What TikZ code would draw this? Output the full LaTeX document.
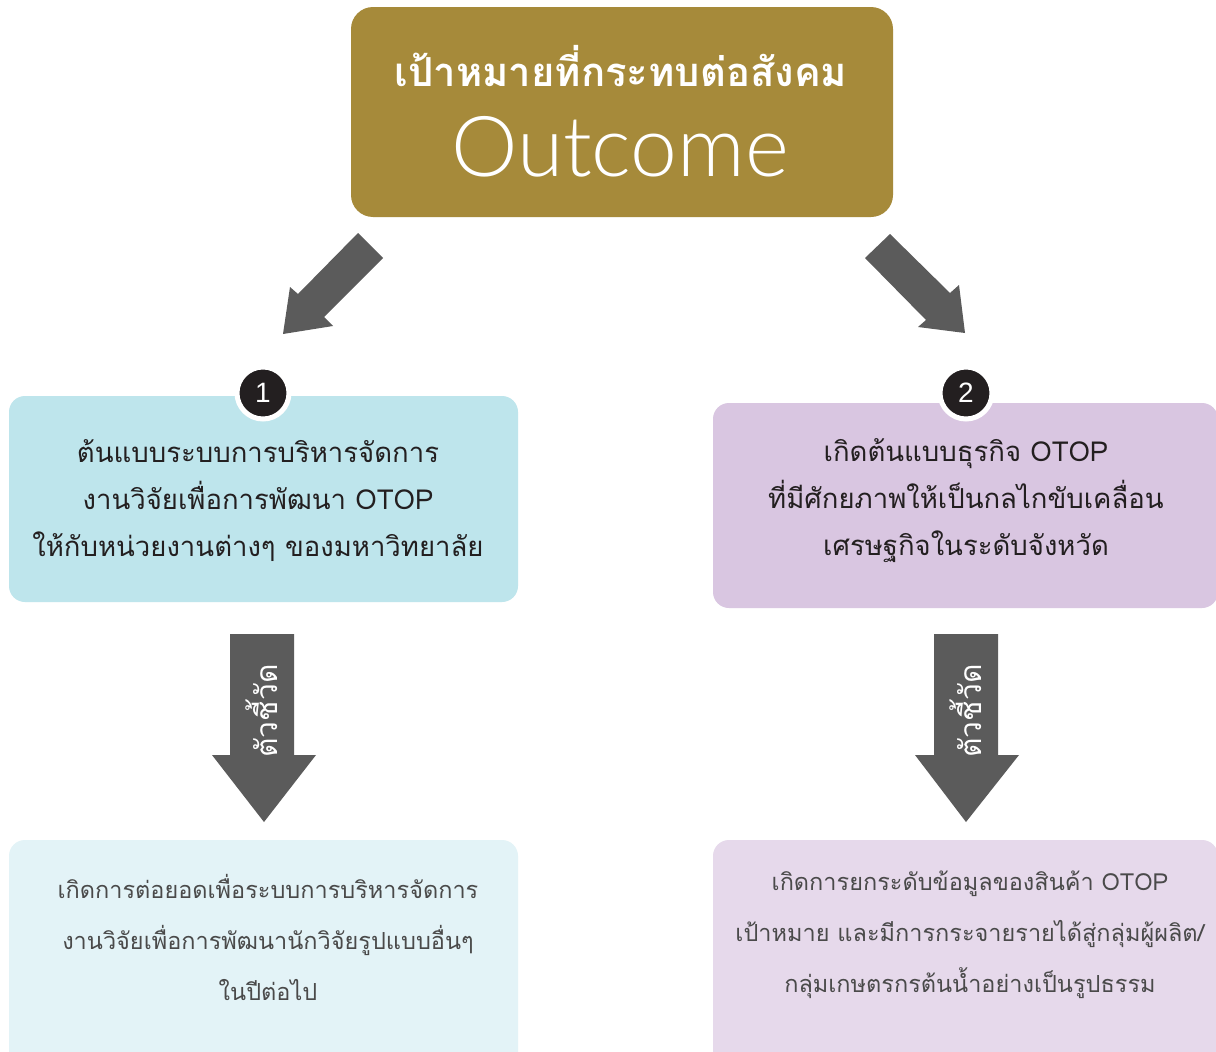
\documentclass[tikz,border=0pt]{standalone}
\usepackage{fontspec}
\newfontfamily\thai[Script=Thai]{Loma}
\IfFontExistsTF{Lato Light}{\newfontfamily\outfont{Lato Light}}{\newfontfamily\outfont{Liberation Sans}}
\newfontfamily\numfont{Liberation Sans}
\definecolor{gold}{HTML}{A68A3A}
\definecolor{boxA}{HTML}{BEE5EC}
\definecolor{boxB}{HTML}{D9C6E1}
\definecolor{boxC}{HTML}{E3F3F7}
\definecolor{boxD}{HTML}{E6D9EB}
\definecolor{arrowgray}{HTML}{5B5B5B}
\definecolor{darktext}{HTML}{231F20}
\definecolor{lighttext}{HTML}{4A4A4A}
\begin{document}
\begin{tikzpicture}[x=1pt,y=-1pt,
  panel/.style={rounded corners=16pt, inner sep=0pt, draw=none},
  badge/.style={circle, fill=darktext, draw=white, line width=5pt, minimum size=52pt, inner sep=0pt, text=white, font=\numfont\fontsize{28}{30}\selectfont},
  maintext/.style={align=center, text=darktext, font=\thai\fontsize{27.5}{47}\selectfont},
  subtext/.style={align=center, text=lighttext, font=\thai\fontsize{23.5}{51}\selectfont},
  bigarrow/.style={fill=arrowgray, draw=none},
  arrowlabel/.style={rotate=90, text=white, font=\thai\fontsize{30}{32}\selectfont}
]
\useasboundingbox (0,0) rectangle (1216,1052);
\fill[white] (0,0) rectangle (1216,1052);

% top box
\node[panel, rounded corners=22pt, fill=gold, minimum width=542pt, minimum height=210pt] (top) at (622,112) {};
\node[text=white, font=\thai\bfseries\fontsize{40}{48}\selectfont] (title) at (621,66) {เป้าหมายที่กระทบต่อสังคม};
\node[text=white, font=\outfont\fontsize{84}{90}\selectfont] (oc) at (620,147) {Outcome};

% diagonal arrows
\fill[bigarrow] (358,233) -- (383,258) -- (324,317) -- (333,326) -- (283,334) -- (290,287) -- (298,294) -- cycle;
\fill[bigarrow] (865,258) -- (890,234) -- (950,293) -- (959,285) -- (965,333) -- (918,327) -- (926,320) -- cycle;

% middle boxes
\node[panel, fill=boxA, minimum width=509pt, minimum height=206pt] (b1) at (263.5,499) {};
\node[maintext] (t1) at (258,501) {ต้นแบบระบบการบริหารจัดการ\\งานวิจัยเพื่อการพัฒนา OTOP\\ให้กับหน่วยงานต่างๆ ของมหาวิทยาลัย};
\node[badge] (n1) at (263,393) {1};

\node[panel, fill=boxB, minimum width=505pt, minimum height=205pt] (b2) at (965.5,505.5) {};
\node[maintext] (t2) at (966,501) {เกิดต้นแบบธุรกิจ OTOP\\ที่มีศักยภาพให้เป็นกลไกขับเคลื่อน\\เศรษฐกิจในระดับจังหวัด};
\node[badge] (n2) at (966,393) {2};

% down arrows
\fill[bigarrow] (230,634) -- (294,634) -- (294,755) -- (316,755) -- (264,822) -- (212,755) -- (230,755) -- cycle;
\node[arrowlabel] (l1) at (262,711) {ตัวชี้วัด};
\fill[bigarrow] (934,634) -- (998,634) -- (998,755) -- (1019,755) -- (966,822) -- (915,755) -- (934,755) -- cycle;
\node[arrowlabel] (l2) at (966,711) {ตัวชี้วัด};

% bottom boxes
\node[panel, fill=boxC, minimum width=509pt, minimum height=240pt] (b3) at (263.5,960) {};
\node[subtext] (t3) at (268,937) {เกิดการต่อยอดเพื่อระบบการบริหารจัดการ\\งานวิจัยเพื่อการพัฒนานักวิจัยรูปแบบอื่นๆ\\ในปีต่อไป};
\node[panel, fill=boxD, minimum width=505pt, minimum height=240pt] (b4) at (965.5,960) {};
\node[subtext] (t4) at (970,935) {เกิดการยกระดับข้อมูลของสินค้า OTOP\\เป้าหมาย และมีการกระจายรายได้สู่กลุ่มผู้ผลิต/\\กลุ่มเกษตรกรต้นน้ำอย่างเป็นรูปธรรม};
\end{tikzpicture}
\end{document}
